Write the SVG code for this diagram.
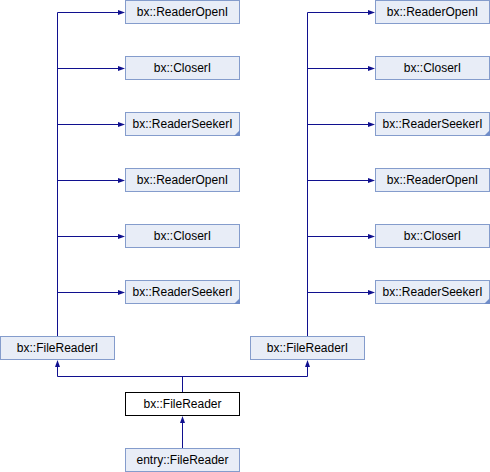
<svg xmlns="http://www.w3.org/2000/svg" width="490" height="472" viewBox="0 0 490 472">
<style>
.n rect{fill:#E8EDF7;stroke:#849CCC;stroke-width:1}
.n.cur rect{fill:#FFFFFF;stroke:#000000}
.n text{font-family:"Liberation Sans",Arial,sans-serif;font-size:12px;fill:#000;text-anchor:middle}
.c path{fill:none;stroke:#10108F;stroke-width:1}
.c polygon{fill:#10108F;stroke:none}
.corner{fill:#6F8CC8}
</style>
<rect width="490" height="472" fill="#FFFFFF"/>
<g class="c" id="connectors">
<path d="M57.5,336 V12.5 H119 M57.5,68.5 H119 M57.5,124.5 H119 M57.5,180.5 H119 M57.5,236.5 H119 M57.5,292.5 H119"/>
<path d="M307.5,336 V12.5 H369 M307.5,68.5 H369 M307.5,124.5 H369 M307.5,180.5 H369 M307.5,236.5 H369 M307.5,292.5 H369"/>
<polygon points="118,10 125,12.5 118,15"/>
<polygon points="118,66 125,68.5 118,71"/>
<polygon points="118,122 125,124.5 118,127"/>
<polygon points="118,178 125,180.5 118,183"/>
<polygon points="118,234 125,236.5 118,239"/>
<polygon points="118,290 125,292.5 118,295"/>
<polygon points="368,10 375,12.5 368,15"/>
<polygon points="368,66 375,68.5 368,71"/>
<polygon points="368,122 375,124.5 368,127"/>
<polygon points="368,178 375,180.5 368,183"/>
<polygon points="368,234 375,236.5 368,239"/>
<polygon points="368,290 375,292.5 368,295"/>
<path d="M182.5,392 V376.5 M57.5,366 V376.5 H307.5 V366"/>
<polygon points="55,367 57.5,360 60,367"/>
<polygon points="305,367 307.5,360 310,367"/>
<path d="M182.5,448 V422"/>
<polygon points="180,423 182.5,416 185,423"/>
</g>
<g class="n" id="l_readeropen1"><rect x="125.5" y="0.5" width="114" height="23"/><text x="182.5" y="16">bx::ReaderOpenI</text></g>
<g class="n" id="l_closer1"><rect x="125.5" y="56.5" width="114" height="23"/><text x="182.5" y="72">bx::CloserI</text></g>
<g class="n" id="l_readerseeker1"><rect x="125.5" y="112.5" width="114" height="23"/><text x="182.5" y="128">bx::ReaderSeekerI</text><polygon class="corner" points="234,136 240,136 240,130"/></g>
<g class="n" id="l_readeropen2"><rect x="125.5" y="168.5" width="114" height="23"/><text x="182.5" y="184">bx::ReaderOpenI</text></g>
<g class="n" id="l_closer2"><rect x="125.5" y="224.5" width="114" height="23"/><text x="182.5" y="240">bx::CloserI</text></g>
<g class="n" id="l_readerseeker2"><rect x="125.5" y="280.5" width="114" height="23"/><text x="182.5" y="296">bx::ReaderSeekerI</text><polygon class="corner" points="234,304 240,304 240,298"/></g>
<g class="n" id="r_readeropen1"><rect x="375.5" y="0.5" width="114" height="23"/><text x="432.5" y="16">bx::ReaderOpenI</text></g>
<g class="n" id="r_closer1"><rect x="375.5" y="56.5" width="114" height="23"/><text x="432.5" y="72">bx::CloserI</text></g>
<g class="n" id="r_readerseeker1"><rect x="375.5" y="112.5" width="114" height="23"/><text x="432.5" y="128">bx::ReaderSeekerI</text><polygon class="corner" points="484,136 490,136 490,130"/></g>
<g class="n" id="r_readeropen2"><rect x="375.5" y="168.5" width="114" height="23"/><text x="432.5" y="184">bx::ReaderOpenI</text></g>
<g class="n" id="r_closer2"><rect x="375.5" y="224.5" width="114" height="23"/><text x="432.5" y="240">bx::CloserI</text></g>
<g class="n" id="r_readerseeker2"><rect x="375.5" y="280.5" width="114" height="23"/><text x="432.5" y="296">bx::ReaderSeekerI</text><polygon class="corner" points="484,304 490,304 490,298"/></g>
<g class="n" id="l_filereaderi"><rect x="0.5" y="336.5" width="114" height="23"/><text x="57.5" y="352">bx::FileReaderI</text></g>
<g class="n" id="r_filereaderi"><rect x="250.5" y="336.5" width="114" height="23"/><text x="307.5" y="352">bx::FileReaderI</text></g>
<g class="n cur" id="filereader"><rect x="125.5" y="392.5" width="114" height="23"/><text x="182.5" y="408">bx::FileReader</text></g>
<g class="n" id="entry_filereader"><rect x="125.5" y="448.5" width="114" height="23"/><text x="182.5" y="464">entry::FileReader</text></g>
</svg>
